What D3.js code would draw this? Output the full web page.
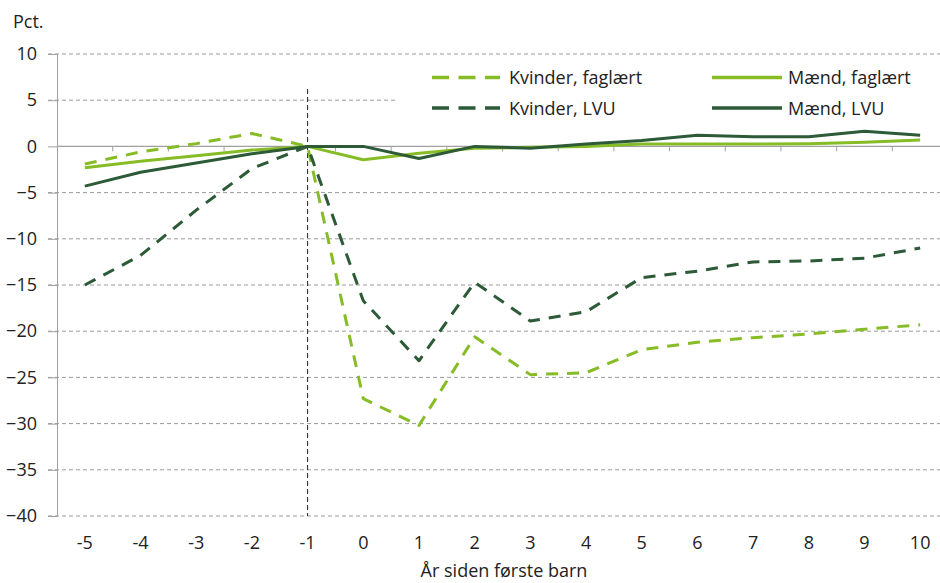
<!DOCTYPE html>
<html><head><meta charset="utf-8">
<script src="https://cdn.jsdelivr.net/npm/d3@7"></script>
<style>
body{margin:0;background:#fff;}
svg{display:block;font-family:"Open Sans",sans-serif;}
</style></head>
<body><svg id="c" width="940" height="583"></svg>
<script>
const years = [-5,-4,-3,-2,-1,0,1,2,3,4,5,6,7,8,9,10];
const yTicks = [10,5,0,-5,-10,-15,-20,-25,-30,-35,-40];
const kvinderFaglaert = [-1.9,-0.6,0.3,1.4,0,-27.3,-30.2,-20.6,-24.7,-24.5,-22.0,-21.2,-20.7,-20.3,-19.8,-19.3];
const kvinderLVU = [-15.0,-11.8,-6.9,-2.4,0,-16.7,-23.2,-14.7,-18.9,-17.9,-14.2,-13.5,-12.5,-12.4,-12.1,-11.0];
const maendFaglaert = [-2.3,-1.6,-1.0,-0.4,0,-1.45,-0.75,-0.2,-0.1,0.0,0.25,0.25,0.25,0.3,0.45,0.7];
const maendLVU = [-4.3,-2.8,-1.8,-0.8,0,0,-1.3,0,-0.2,0.25,0.65,1.2,1.05,1.05,1.65,1.2];
const seriesNames = ["Kvinder, faglært","Kvinder, LVU","Mænd, faglært","Mænd, LVU"];

const light = "#86bc25", dark = "#2d5a37";
const series = [
  {name: seriesNames[0], values: kvinderFaglaert, color: light, dash: "12,9"},
  {name: seriesNames[1], values: kvinderLVU, color: dark, dash: "12,9"},
  {name: seriesNames[2], values: maendFaglaert, color: light, dash: null},
  {name: seriesNames[3], values: maendLVU, color: dark, dash: null}
];

const svg = d3.select("#c");
const mLeft = 57, mRight = 948, mTop = 54, mBottom = 516;
const x = d3.scaleBand().domain(years).range([mLeft, mRight]).padding(0);
const xc = d => x(d) + x.bandwidth()/2;
const y = d3.scaleLinear().domain([-40,10]).range([mBottom, mTop]);
const FS = 18;

// gridlines
svg.append("g").selectAll("line").data(yTicks.filter(d => d !== 0)).join("line")
  .attr("x1", 48).attr("x2", 940).attr("y1", d => y(d)).attr("y2", d => y(d))
  .attr("stroke", "#9a9a9a").attr("stroke-width", 1).attr("stroke-dasharray", "4,3");

// y axis
const yAxis = d3.axisLeft(y).tickValues(yTicks).tickSize(9).tickPadding(11).tickFormat(d3.format("d"));
const gy = svg.append("g").attr("transform", `translate(${mLeft},0)`).call(yAxis);
gy.select(".domain").attr("stroke", "#a0a0a0");
gy.selectAll(".tick line").attr("stroke", "#a0a0a0");
gy.selectAll("text").attr("font-size", FS).attr("fill", "#222").attr("font-family", "Open Sans");

// zero line with boundary ticks
svg.append("line").attr("x1", mLeft).attr("x2", 940).attr("y1", y(0)).attr("y2", y(0))
  .attr("stroke", "#a0a0a0").attr("stroke-width", 1.2);
svg.append("g").selectAll("line").data(years.slice(1)).join("line")
  .attr("x1", d => x(d)).attr("x2", d => x(d)).attr("y1", y(0)).attr("y2", y(0) + 5)
  .attr("stroke", "#a0a0a0");

// x labels
const xAxis = d3.axisBottom(x).tickSize(0).tickPadding(20.5);
const gx = svg.append("g").attr("transform", `translate(0,${mBottom})`).call(xAxis);
gx.select(".domain").remove();
gx.selectAll("text").attr("font-size", FS).attr("fill", "#222").attr("font-family", "Open Sans");

// axis titles
svg.append("text").attr("x", 13).attr("y", 28).text("Pct.").attr("font-size", FS).attr("fill", "#222");
svg.append("text").attr("x", 504).attr("y", 577).attr("text-anchor", "middle")
  .text("År siden første barn").attr("font-size", FS).attr("fill", "#222");

// legend background
svg.append("rect").attr("x", 395).attr("y", 62).attr("width", 545).attr("height", 64).attr("fill", "#fff");

// vertical dashed line at -1
svg.append("line").attr("x1", xc(-1)).attr("x2", xc(-1)).attr("y1", 89).attr("y2", mBottom)
  .attr("stroke", "#222").attr("stroke-width", 1).attr("stroke-dasharray", "5,3");

// lines
const line = d3.line().x((d,i) => xc(years[i])).y(d => y(d));
svg.append("g").selectAll("path").data(series).join("path")
  .attr("d", d => line(d.values)).attr("fill", "none")
  .attr("stroke", d => d.color).attr("stroke-width", 3)
  .attr("stroke-dasharray", d => d.dash).attr("stroke-linejoin", "round");

// legend
const legPos = [[432,77.5],[432,108],[712,77.5],[712,108]];
const lg = svg.append("g").selectAll("g").data(series).join("g")
  .attr("transform", (d,i) => `translate(${legPos[i][0]},${legPos[i][1]})`);
lg.append("line").attr("x1", 0).attr("x2", d => d.dash ? 68 : 70).attr("y1", 0).attr("y2", 0)
  .attr("stroke", d => d.color).attr("stroke-width", 3.5)
  .attr("stroke-dasharray", d => d.dash ? "17,9.5" : null);
lg.append("text").attr("x", d => d.dash ? 77 : 76).attr("y", 6.5).text(d => d.name)
  .attr("font-size", FS).attr("fill", "#222");
</script></body></html>
